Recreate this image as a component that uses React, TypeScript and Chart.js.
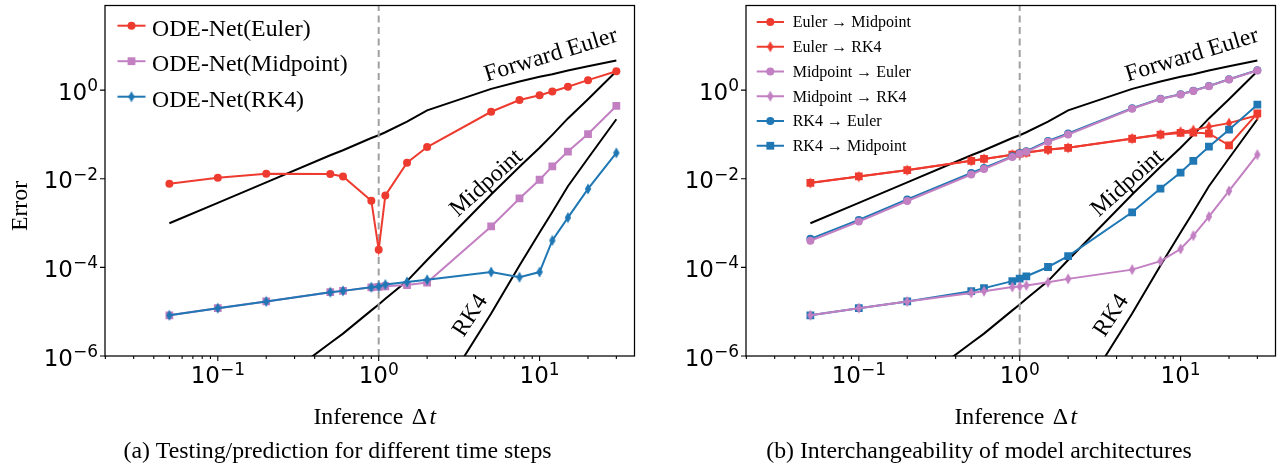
import React, { useEffect, useRef } from "react";
import { Chart, registerables } from "chart.js";

Chart.register(...registerables);

// ---------------- data ----------------
const dt = [0.05, 0.1, 0.2, 0.5, 0.6, 0.9, 1.0, 1.1, 1.5, 2, 5, 7.5, 10, 12, 15, 20, 30];
const rk4RefDt = [2, 5, 7.5, 10, 12, 15, 20, 30];
const trainDt = 1;

// reference (black) curves
const forwardEulerRef = [9.9e-4, 2.86e-3, 8.3e-3, 3.4e-2, 4.4e-2, 8.3e-2, 9.6e-2, 0.112, 0.195, 0.35, 1.07, 1.57, 2.0, 2.29, 2.77, 3.46, 4.65];
const midpointRef = [1.0e-8, 4.0e-8, 1.65e-7, 1.96e-6, 3.2e-6, 1.07e-5, 1.45e-5, 1.95e-5, 4.9e-5, 1.47e-4, 4.4e-3, 1.86e-2, 0.05, 0.098, 0.23, 0.62, 2.67];
const rk4Ref = [4.5e-8, 9.1e-6, 1.1e-4, 6.1e-4, 1.77e-3, 6.8e-3, 2.9e-2, 0.22];

// panel (a)
const odeNetEuler = [7.7e-3, 1.05e-2, 1.29e-2, 1.28e-2, 1.13e-2, 3.2e-3, 2.5e-4, 4.2e-3, 2.3e-2, 5.2e-2, 0.325, 0.6, 0.77, 0.93, 1.19, 1.68, 2.67];
const odeNetMidpoint = [8.3e-6, 1.2e-5, 1.7e-5, 2.75e-5, 2.95e-5, 3.55e-5, 3.65e-5, 3.75e-5, 4.0e-5, 4.55e-5, 8.4e-4, 3.6e-3, 9.5e-3, 1.9e-2, 4.1e-2, 0.102, 0.44];
const odeNetRK4 = [8.3e-6, 1.2e-5, 1.7e-5, 2.75e-5, 2.95e-5, 3.55e-5, 3.7e-5, 4.1e-5, 4.7e-5, 5.25e-5, 7.85e-5, 6.0e-5, 7.85e-5, 4.05e-4, 1.33e-3, 5.9e-3, 3.85e-2];

// panel (b)
const eulerToMidpoint = [8.1e-3, 1.13e-2, 1.57e-2, 2.54e-2, 2.8e-2, 3.5e-2, 3.7e-2, 3.9e-2, 4.55e-2, 5.0e-2, 8.0e-2, 9.9e-2, 0.108, 0.11, 0.105, 0.057, 0.30];
const eulerToRK4 = [8.0e-3, 1.12e-2, 1.56e-2, 2.55e-2, 2.8e-2, 3.5e-2, 3.7e-2, 3.9e-2, 4.5e-2, 5.0e-2, 8.1e-2, 0.1, 0.115, 0.125, 0.15, 0.18, 0.27];
const midpointToEuler = [4.0e-4, 1.08e-3, 3.15e-3, 1.25e-2, 1.65e-2, 3.1e-2, 3.65e-2, 4.05e-2, 6.8e-2, 0.1, 0.38, 0.63, 0.8, 0.96, 1.23, 1.74, 2.77];
const midpointToRK4 = [8.3e-6, 1.2e-5, 1.7e-5, 2.65e-5, 2.9e-5, 3.6e-5, 3.7e-5, 3.9e-5, 4.6e-5, 5.5e-5, 8.9e-5, 1.38e-4, 2.6e-4, 5.2e-4, 1.4e-3, 5.3e-3, 3.5e-2];
const rk4ToEuler = [4.4e-4, 1.18e-3, 3.4e-3, 1.35e-2, 1.75e-2, 3.2e-2, 3.8e-2, 4.2e-2, 7.1e-2, 0.105, 0.39, 0.64, 0.81, 0.97, 1.24, 1.76, 2.8];
const rk4ToMidpoint = [8.3e-6, 1.2e-5, 1.7e-5, 2.9e-5, 3.4e-5, 4.9e-5, 5.6e-5, 6.3e-5, 1.02e-4, 1.8e-4, 1.75e-3, 6.0e-3, 1.38e-2, 2.54e-2, 5.3e-2, 0.128, 0.47];

// axes
const X_MIN = 0.0199;
const X_MAX = 38.9;
const Y_MIN = 1e-6;
const Y_MAX = 81.3;
const xTickValues = [0.1, 1, 10];
const xTickLabels: [string, string][] = [["10", "\u22121"], ["10", "0"], ["10", "1"]];
const yTickValues = [1e-6, 1e-4, 1e-2, 1];
const yTickLabels: [string, string][] = [["10", "\u22126"], ["10", "\u22124"], ["10", "\u22122"], ["10", "0"]];
const xMinorTickValues: number[] = [];
for (let k = -2; k <= 1; k++) {
  for (let m = 2; m <= 9; m++) {
    const v = m * Math.pow(10, k);
    if (v > X_MIN && v < X_MAX) xMinorTickValues.push(v);
  }
}

const annotations = [
  { text: "Forward Euler", x: 4.69, y: 1.57, angle: 17 },
  { text: "Midpoint", x: 3.1, y: 1.33e-3, angle: 42 },
  { text: "RK4", x: 3.37, y: 2.54e-6, angle: 57 },
];

// ---------------- styling ----------------
const RED = "#ee3b30";
const PURPLE = "#c27fc2";
const BLUE = "#1f77b4";
const GRAY = "#a0a0a0";
const SERIF = '"Liberation Serif", "Times New Roman", serif';
const SANS = '"DejaVu Sans", sans-serif';
const TEXT_SIZE = 23.8;
const TICK_FONT = 23;
const SUP_FONT = 17;
const SUP_RAISE = 8.5;

type Marker = "circle" | "rect" | "thin";

const diamondCache: Record<string, HTMLCanvasElement> = {};
function thinDiamond(color: string): HTMLCanvasElement {
  if (diamondCache[color]) return diamondCache[color];
  const c = document.createElement("canvas");
  c.width = 8;
  c.height = 12;
  const g = c.getContext("2d")!;
  g.fillStyle = color;
  g.beginPath();
  g.moveTo(4, 0.5);
  g.lineTo(7.2, 6);
  g.lineTo(4, 11.5);
  g.lineTo(0.8, 6);
  g.closePath();
  g.fill();
  diamondCache[color] = c;
  return c;
}

function drawMarker(ctx: CanvasRenderingContext2D, m: Marker, x: number, y: number, color: string) {
  ctx.fillStyle = color;
  if (m === "circle") {
    ctx.beginPath();
    ctx.arc(x, y, 4, 0, Math.PI * 2);
    ctx.fill();
  } else if (m === "rect") {
    ctx.fillRect(x - 3.9, y - 3.9, 7.8, 7.8);
  } else {
    const d = thinDiamond(color);
    ctx.drawImage(d, x - d.width / 2, y - d.height / 2);
  }
}

function series(label: string, ys: number[], color: string, marker: Marker, order: number, legendMarker?: Marker) {
  return {
    label,
    data: dt.map((x, i) => ({ x, y: ys[i] })),
    borderColor: color,
    backgroundColor: color,
    borderWidth: 2,
    pointStyle: marker === "thin" ? thinDiamond(color) : marker,
    pointRadius: marker === "rect" ? 5.5 : marker === "circle" ? 4 : 5,
    pointBorderWidth: 0,
    pointHoverRadius: 0,
    tension: 0,
    order,
    inLegend: true,
    legendMarker: legendMarker || marker,
  };
}

function refCurve(xs: number[], ys: number[]) {
  return {
    label: "",
    data: xs.map((x, i) => ({ x, y: ys[i] })),
    borderColor: "#000",
    borderWidth: 2,
    pointRadius: 0,
    tension: 0,
    clip: 0,
    order: 20,
    inLegend: false,
  };
}

function trainLine() {
  return {
    label: "",
    data: [{ x: trainDt, y: Y_MIN }, { x: trainDt, y: Y_MAX }],
    borderColor: GRAY,
    borderWidth: 2,
    borderDash: [7, 4.5],
    pointRadius: 0,
    clip: 0,
    order: 15,
    inLegend: false,
  };
}

function drawPow(ctx: CanvasRenderingContext2D, base: string, exp: string, x: number, baseline: number, align: "right" | "center") {
  ctx.font = `${TICK_FONT}px ${SANS}`;
  const wb = ctx.measureText(base).width;
  ctx.font = `${SUP_FONT}px ${SANS}`;
  const we = ctx.measureText(exp).width;
  const total = wb + we;
  const x0 = align === "right" ? x - total : x - total / 2;
  ctx.textAlign = "left";
  ctx.textBaseline = "alphabetic";
  ctx.font = `${TICK_FONT}px ${SANS}`;
  ctx.fillText(base, x0, baseline);
  ctx.font = `${SUP_FONT}px ${SANS}`;
  ctx.fillText(exp, x0 + wb, baseline - SUP_RAISE);
}

type PanelSpec = {
  left: number;
  width: number;
  yAxisWidth: number;
  caption: string;
  captionX: number;
  yTitle?: string;
  legend: { lineX0: number; lineX1: number; markerX: number; textX: number; y0: number; dy: number; font: number; baseline: number };
  datasets: () => any[];
};

function makePlugin(spec: PanelSpec) {
  return {
    id: "decor",
    afterDraw(chart: any) {
      const ctx: CanvasRenderingContext2D = chart.ctx;
      const ca = chart.chartArea;
      const xs = chart.scales.x;
      const ys = chart.scales.y;
      ctx.save();
      // frame
      ctx.strokeStyle = "#000";
      ctx.lineWidth = 1.25;
      ctx.strokeRect(ca.left, ca.top, ca.right - ca.left, ca.bottom - ca.top);
      // ticks
      ctx.lineWidth = 1.1;
      ctx.beginPath();
      for (const v of xTickValues) {
        const p = xs.getPixelForValue(v);
        ctx.moveTo(p, ca.bottom);
        ctx.lineTo(p, ca.bottom + 5);
      }
      for (const v of xMinorTickValues) {
        const p = xs.getPixelForValue(v);
        ctx.moveTo(p, ca.bottom);
        ctx.lineTo(p, ca.bottom + 3);
      }
      for (const v of yTickValues) {
        const p = ys.getPixelForValue(v);
        ctx.moveTo(ca.left - 5, p);
        ctx.lineTo(ca.left, p);
      }
      ctx.stroke();
      // tick labels
      ctx.fillStyle = "#000";
      xTickLabels.forEach(([b, e], i) => drawPow(ctx, b, e, xs.getPixelForValue(xTickValues[i]), ca.bottom + 27.3, "center"));
      yTickLabels.forEach(([b, e], i) => drawPow(ctx, b, e, ca.left - 7, ys.getPixelForValue(yTickValues[i]) + 9.5, "right"));
      // annotations on reference curves
      ctx.font = `${TEXT_SIZE}px ${SERIF}`;
      ctx.textAlign = "left";
      ctx.textBaseline = "alphabetic";
      for (const a of annotations) {
        ctx.save();
        ctx.beginPath();
        ctx.rect(ca.left, ca.top, ca.right - ca.left, ca.bottom - ca.top);
        ctx.clip();
        ctx.translate(xs.getPixelForValue(a.x), ys.getPixelForValue(a.y));
        ctx.rotate((-a.angle * Math.PI) / 180);
        ctx.fillStyle = "#000";
        ctx.fillText(a.text, 0, 0);
        ctx.restore();
      }
      // legend
      const L = spec.legend;
      const items = chart.data.datasets.filter((d: any) => d.inLegend);
      items.forEach((d: any, i: number) => {
        const y = L.y0 + i * L.dy;
        ctx.strokeStyle = d.borderColor;
        ctx.lineWidth = 2;
        ctx.beginPath();
        ctx.moveTo(L.lineX0, y);
        ctx.lineTo(L.lineX1, y);
        ctx.stroke();
        drawMarker(ctx, d.legendMarker, L.markerX, y, d.borderColor);
        ctx.fillStyle = "#000";
        ctx.font = `${L.font}px ${SERIF}`;
        ctx.textAlign = "left";
        ctx.textBaseline = "alphabetic";
        ctx.fillText(d.label, L.textX, y + L.baseline);
      });
      // x-axis title
      ctx.fillStyle = "#000";
      ctx.textAlign = "left";
      ctx.font = `${TEXT_SIZE}px ${SERIF}`;
      const t0 = "Inference ";
      const w0 = ctx.measureText(t0).width;
      const wd = ctx.measureText("\u0394").width;
      ctx.font = `italic ${TEXT_SIZE}px ${SERIF}`;
      const wt = ctx.measureText("t").width;
      const gap = 2.5;
      const total = w0 + gap + wd + gap + wt;
      const cx = (ca.left + ca.right) / 2 + 5;
      const sx = cx - total / 2;
      ctx.font = `${TEXT_SIZE}px ${SERIF}`;
      ctx.fillText(t0, sx, 424);
      ctx.fillText("\u0394", sx + w0 + gap, 424);
      ctx.font = `italic ${TEXT_SIZE}px ${SERIF}`;
      ctx.fillText("t", sx + w0 + gap + wd + gap, 424);
      // y-axis title
      if (spec.yTitle) {
        ctx.save();
        ctx.translate(26.5, 206);
        ctx.rotate(-Math.PI / 2);
        ctx.font = `${TEXT_SIZE}px ${SERIF}`;
        ctx.textAlign = "center";
        ctx.fillText(spec.yTitle, 0, 0);
        ctx.restore();
      }
      // caption
      ctx.font = `${TEXT_SIZE}px ${SERIF}`;
      ctx.textAlign = "center";
      ctx.fillText(spec.caption, spec.captionX, 457.5);
      ctx.restore();
    },
  };
}

const panelA: PanelSpec = {
  left: 0,
  width: 640,
  yAxisWidth: 105,
  caption: "(a) Testing/prediction for different time steps",
  captionX: 337.5,
  yTitle: "Error",
  legend: { lineX0: 117.5, lineX1: 145.5, markerX: 131.5, textX: 152, y0: 25.7, dy: 35.5, font: TEXT_SIZE, baseline: 10.2 },
  datasets: () => [
    series("ODE-Net(Euler)", odeNetEuler, RED, "circle", 3),
    series("ODE-Net(Midpoint)", odeNetMidpoint, PURPLE, "rect", 2),
    series("ODE-Net(RK4)", odeNetRK4, BLUE, "thin", 1),
    trainLine(),
    refCurve(dt, forwardEulerRef),
    refCurve(dt, midpointRef),
    refCurve(rk4RefDt, rk4Ref),
  ],
};

const panelB: PanelSpec = {
  left: 640,
  width: 641,
  yAxisWidth: 106,
  caption: "(b) Interchangeability of model architectures",
  captionX: 339,
  legend: { lineX0: 116.7, lineX1: 144, markerX: 130.3, textX: 152.7, y0: 22, dy: 24.75, font: 16, baseline: 5.3 },
  datasets: () => [
    series("Euler \u2192 Midpoint", eulerToMidpoint, RED, "rect", 6, "circle"),
    series("Euler \u2192 RK4", eulerToRK4, RED, "thin", 5),
    series("Midpoint \u2192 Euler", midpointToEuler, PURPLE, "circle", 2),
    series("Midpoint \u2192 RK4", midpointToRK4, PURPLE, "thin", 1),
    series("RK4 \u2192 Euler", rk4ToEuler, BLUE, "circle", 4),
    series("RK4 \u2192 Midpoint", rk4ToMidpoint, BLUE, "rect", 3),
    trainLine(),
    refCurve(dt, forwardEulerRef),
    refCurve(dt, midpointRef),
    refCurve(rk4RefDt, rk4Ref),
  ],
};

const HEIGHT = 465;
const X_AXIS_HEIGHT = 109;

function Panel({ spec }: { spec: PanelSpec }) {
  const ref = useRef<HTMLCanvasElement>(null);
  useEffect(() => {
    const chart = new Chart(ref.current as HTMLCanvasElement, {
      type: "line",
      data: { datasets: spec.datasets() as any },
      options: {
        responsive: false,
        animation: false,
        events: [],
        layout: { padding: { left: 0, top: 3, right: 5, bottom: 0 } },
        plugins: { legend: { display: false }, tooltip: { enabled: false }, title: { display: false } },
        scales: {
          x: {
            type: "logarithmic",
            position: "bottom",
            min: X_MIN,
            max: X_MAX,
            grid: { display: false },
            border: { display: false },
            ticks: { display: false },
            afterFit: (s: any) => {
              s.height = X_AXIS_HEIGHT;
              s.paddingLeft = 0;
              s.paddingRight = 0;
            },
          },
          y: {
            type: "logarithmic",
            position: "left",
            min: Y_MIN,
            max: Y_MAX,
            grid: { display: false },
            border: { display: false },
            ticks: { display: false },
            afterFit: (s: any) => {
              s.width = spec.yAxisWidth;
              s.paddingTop = 0;
              s.paddingBottom = 0;
            },
          },
        },
      } as any,
      plugins: [makePlugin(spec)],
    });
    return () => chart.destroy();
  }, [spec]);
  return (
    <canvas
      ref={ref}
      width={spec.width}
      height={HEIGHT}
      style={{ position: "absolute", left: spec.left, top: 0, width: spec.width, height: HEIGHT }}
    />
  );
}

export default function App() {
  return (
    <div style={{ position: "absolute", left: 0, top: 0, width: 1281, height: HEIGHT, background: "#fff", overflow: "hidden" }}>
      <Panel spec={panelA} />
      <Panel spec={panelB} />
    </div>
  );
}
